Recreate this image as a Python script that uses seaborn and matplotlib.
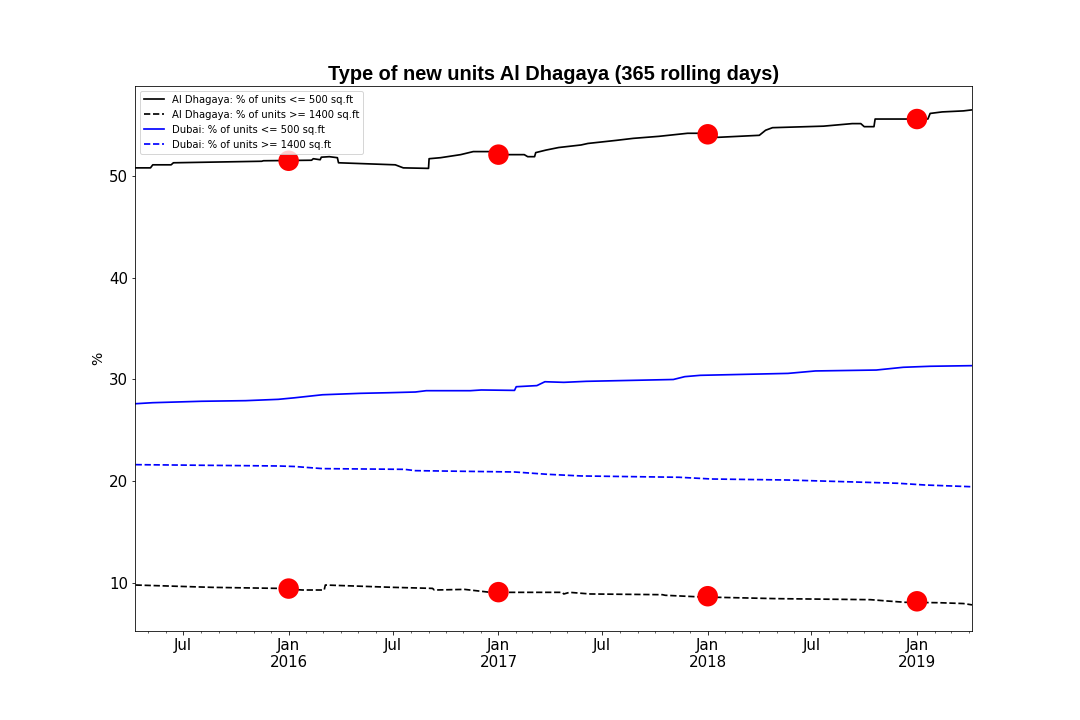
import matplotlib
matplotlib.use("Agg")
import matplotlib.dates as mdates
import matplotlib.pyplot as plt
import numpy as np
import pandas as pd
import seaborn as sns

# Al Dhagaya, % of units <= 500 sq.ft
small_dates = [
    "2015-04-09", "2015-05-05", "2015-05-09", "2015-06-10", "2015-06-14", "2015-11-15",
    "2015-11-18", "2016-02-10", "2016-02-13", "2016-02-25", "2016-02-27", "2016-03-12",
    "2016-03-26", "2016-03-28", "2016-07-05", "2016-07-19", "2016-09-01", "2016-09-02",
    "2016-09-22", "2016-10-27", "2016-11-18", "2016-12-20", "2017-01-05", "2017-02-15",
    "2017-02-21", "2017-03-05", "2017-03-07", "2017-03-25", "2017-04-16", "2017-05-25",
    "2017-06-06", "2017-07-25", "2017-08-24", "2017-10-08", "2017-11-27", "2018-01-10",
    "2018-01-18", "2018-04-01", "2018-04-12", "2018-04-24", "2018-07-22", "2018-09-10",
    "2018-09-25", "2018-10-01", "2018-10-18", "2018-10-20", "2019-01-20", "2019-01-24",
    "2019-02-14", "2019-03-23", "2019-04-07",
]
small_dhagaya = [
    50.8, 50.8, 51.1, 51.1, 51.3, 51.45,
    51.5, 51.55, 51.7, 51.6, 51.85, 51.9,
    51.8, 51.3, 51.1, 50.8, 50.75, 51.7,
    51.8, 52.1, 52.4, 52.4, 52.1, 52.1,
    51.9, 51.9, 52.3, 52.55, 52.8, 53.05,
    53.2, 53.5, 53.7, 53.9, 54.2, 54.2,
    53.8, 54.0, 54.5, 54.75, 54.9, 55.15,
    55.15, 54.85, 54.85, 55.6, 55.6, 56.15,
    56.3, 56.4, 56.5,
]

# Al Dhagaya, % of units >= 1400 sq.ft
large_dates = [
    "2015-04-09", "2015-08-21", "2015-12-14", "2016-01-25", "2016-03-03", "2016-03-05",
    "2016-07-02", "2016-09-08", "2016-09-11", "2016-11-03", "2016-12-18", "2017-04-22",
    "2017-04-25", "2017-05-05", "2017-06-10", "2017-10-14", "2017-10-19", "2017-12-19",
    "2018-05-02", "2018-10-12", "2018-11-10", "2018-12-12", "2019-02-09", "2019-03-23",
    "2019-04-07",
]
large_dhagaya = [
    9.8, 9.57, 9.47, 9.31, 9.31, 9.8,
    9.57, 9.47, 9.31, 9.37, 9.08, 9.08,
    8.92, 9.08, 8.92, 8.85, 8.79, 8.63,
    8.46, 8.36, 8.23, 8.1, 8.06, 7.98,
    7.85,
]

# Dubai, % of units <= 500 sq.ft
dubai_small_dates = [
    "2015-04-09", "2015-05-09", "2015-08-02", "2015-10-18", "2015-12-14", "2016-01-11",
    "2016-02-29", "2016-05-05", "2016-06-23", "2016-08-09", "2016-08-28", "2016-11-13",
    "2016-12-02", "2017-01-29", "2017-02-01", "2017-03-09", "2017-03-23", "2017-04-25",
    "2017-06-03", "2017-11-02", "2017-11-22", "2017-12-19", "2018-05-21", "2018-07-08",
    "2018-10-22", "2018-12-08", "2019-01-24", "2019-04-07",
]
small_dubai = [
    27.62, 27.72, 27.86, 27.92, 28.05, 28.2,
    28.5, 28.64, 28.7, 28.77, 28.9, 28.9,
    28.97, 28.93, 29.29, 29.4, 29.78, 29.72,
    29.82, 30.0, 30.28, 30.41, 30.6, 30.84,
    30.93, 31.2, 31.3, 31.36,
]

# Dubai, % of units >= 1400 sq.ft
dubai_large_dates = [
    "2015-04-09", "2015-12-14", "2016-01-11", "2016-02-29", "2016-07-21", "2016-08-09",
    "2017-01-29", "2017-03-28", "2017-05-25", "2017-11-12", "2018-01-08", "2018-05-21",
    "2018-08-25", "2018-11-29", "2019-01-15", "2019-04-07",
]
large_dubai = [
    21.63, 21.5, 21.45, 21.24, 21.17, 21.04,
    20.91, 20.68, 20.52, 20.39, 20.22, 20.12,
    19.96, 19.8, 19.63, 19.46,
]

# yearly markers on the Al Dhagaya lines
marker_dates = ["2016-01-01", "2017-01-01", "2018-01-01", "2019-01-01"]
marker_small = [51.5, 52.1, 54.1, 55.6]
marker_large = [9.45, 9.1, 8.7, 8.2]

series = [
    ("Al Dhagaya: % of units <= 500 sq.ft", small_dates, small_dhagaya, "black", "-"),
    ("Al Dhagaya: % of units >= 1400 sq.ft", large_dates, large_dhagaya, "black", "--"),
    ("Dubai: % of units <= 500 sq.ft", dubai_small_dates, small_dubai, "blue", "-"),
    ("Dubai: % of units >= 1400 sq.ft", dubai_large_dates, large_dubai, "blue", "--"),
]


def main():
    fig, ax = plt.subplots(figsize=(15, 10), dpi=72)
    fig.subplots_adjust(left=0.125, right=0.9, top=0.8806, bottom=0.1236)

    for label, dates, values, color, style in series:
        frame = pd.DataFrame({"date": pd.to_datetime(dates), "value": values})
        sns.lineplot(data=frame, x="date", y="value", color=color, linestyle=style,
                     linewidth=1.7, label=label, ax=ax)

    dots = pd.DataFrame({
        "date": pd.to_datetime(marker_dates + marker_dates),
        "value": marker_small + marker_large,
    })
    sns.scatterplot(data=dots, x="date", y="value", color="red", s=420,
                    edgecolor="none", zorder=3, legend=False, ax=ax)

    ax.set_xlim(pd.Timestamp("2015-04-08"), pd.Timestamp("2019-04-07"))
    ax.set_ylim(5.28, 58.85)
    ax.set_yticks([10, 20, 30, 40, 50])

    ax.xaxis.set_major_locator(mdates.MonthLocator(bymonth=[1, 7]))
    ax.xaxis.set_minor_locator(mdates.MonthLocator())

    def month_label(x, pos=None):
        d = mdates.num2date(x)
        if d.month == 1:
            return f"Jan\n{d.year}"
        return d.strftime("%b")

    ax.xaxis.set_major_formatter(plt.FuncFormatter(month_label))
    ax.tick_params(axis="both", which="major", labelsize=15)

    ax.set_xlabel("")
    ax.set_ylabel("%", fontsize=14)
    ax.set_title("Type of new units Al Dhagaya (365 rolling days)",
                 fontsize=20, fontweight="bold", family="Liberation Sans")
    leg = ax.legend(loc="upper left", fontsize=10)
    leg.set_zorder(5)

    fig.savefig("out.png", dpi=72)
    plt.close(fig)


if __name__ == "__main__":
    main()
